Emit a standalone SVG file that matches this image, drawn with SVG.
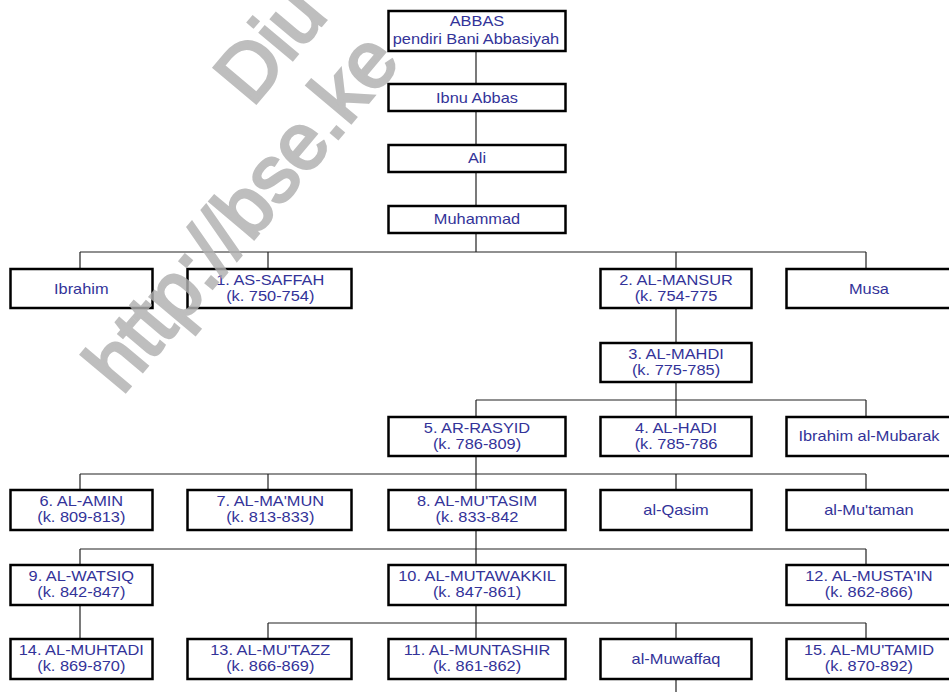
<svg xmlns="http://www.w3.org/2000/svg" width="949" height="692" viewBox="0 0 949 692">
<style>
.bx{fill:#fff;stroke:#000;stroke-width:2.5}
.ln{stroke:#222;stroke-width:1.2;fill:none}
.t{font-family:"Liberation Sans",Arial,sans-serif;font-size:14px;fill:#333399;text-anchor:middle}
.wm{font-family:"Liberation Sans",Arial,sans-serif;font-size:80px;fill:#b0b0b0;stroke:#b0b0b0;stroke-width:3;opacity:0.82}
</style>
<rect width="949" height="692" fill="#fff"/>
<g id="connectors" class="ln">
<path d="M476 51V84M476 111V145M476 172V206M476 233V252"/>
<path d="M80 252H866M80 252V269M268 252V269M676 252V269M866 252V269"/>
<path d="M676 308V343M676 382V400"/>
<path d="M476 400H866M476 400V417M676 400V417M866 400V417"/>
<path d="M476 456V474M80 474H866M80 474V490M268 474V490M476 474V490M676 474V490M866 474V490"/>
<path d="M476 530V549M80 549H866M80 549V565M476 549V565M866 549V565"/>
<path d="M80 605V639M476 605V623M268 623H866M268 623V639M476 623V639M676 623V639M866 623V639"/>
<path d="M676 679V692"/>
</g>
<g id="n-abbas"><rect class="bx" x="388.5" y="11" width="177" height="40"/></g>
<g id="n-ibnuabbas"><rect class="bx" x="388.5" y="84" width="177" height="27"/></g>
<g id="n-ali"><rect class="bx" x="388.5" y="145" width="177" height="27"/></g>
<g id="n-muhammad"><rect class="bx" x="388.5" y="206" width="177" height="27"/></g>
<g id="n-ibrahim"><rect class="bx" x="10.5" y="269" width="142" height="39"/></g>
<g id="n-saffah"><rect class="bx" x="187.5" y="269" width="164" height="39"/></g>
<g id="n-mansur"><rect class="bx" x="600.5" y="269" width="151" height="39"/></g>
<g id="n-musa"><rect class="bx" x="786.5" y="269" width="166" height="39"/></g>
<g id="n-mahdi"><rect class="bx" x="600.5" y="343" width="151" height="39"/></g>
<g id="n-rasyid"><rect class="bx" x="388.5" y="417" width="177" height="39"/></g>
<g id="n-hadi"><rect class="bx" x="600.5" y="417" width="151" height="39"/></g>
<g id="n-ibrahimmubarak"><rect class="bx" x="786.5" y="417" width="166" height="39"/></g>
<g id="n-amin"><rect class="bx" x="10.5" y="490" width="142" height="40"/></g>
<g id="n-mamun"><rect class="bx" x="187.5" y="490" width="164" height="40"/></g>
<g id="n-mutasim"><rect class="bx" x="388.5" y="490" width="177" height="40"/></g>
<g id="n-qasim"><rect class="bx" x="600.5" y="490" width="151" height="40"/></g>
<g id="n-mutaman"><rect class="bx" x="786.5" y="490" width="166" height="40"/></g>
<g id="n-watsiq"><rect class="bx" x="10.5" y="565" width="142" height="40"/></g>
<g id="n-mutawakkil"><rect class="bx" x="388.5" y="565" width="177" height="40"/></g>
<g id="n-mustain"><rect class="bx" x="786.5" y="565" width="166" height="40"/></g>
<g id="n-muhtadi"><rect class="bx" x="10.5" y="639" width="142" height="40"/></g>
<g id="n-mutazz"><rect class="bx" x="187.5" y="639" width="164" height="40"/></g>
<g id="n-muntashir"><rect class="bx" x="388.5" y="639" width="177" height="40"/></g>
<g id="n-muwaffaq"><rect class="bx" x="600.5" y="639" width="151" height="40"/></g>
<g id="n-mutamid"><rect class="bx" x="786.5" y="639" width="166" height="40"/></g>
<g id="labels" class="t" transform="scale(1.17 1)">
<text x="407.7" y="26">ABBAS</text>
<text x="406.8" y="44">pendiri Bani Abbasiyah</text>
<text x="407.7" y="103">Ibnu Abbas</text>
<text x="407.7" y="163">Ali</text>
<text x="407.7" y="224">Muhammad</text>
<text x="69.5" y="294">Ibrahim</text>
<text x="231" y="285">1. AS-SAFFAH</text>
<text x="231" y="301">(k. 750-754)</text>
<text x="577.8" y="285">2. AL-MANSUR</text>
<text x="577.8" y="301">(k. 754-775</text>
<text x="742.7" y="294">Musa</text>
<text x="577.8" y="359">3. AL-MAHDI</text>
<text x="577.8" y="375">(k. 775-785)</text>
<text x="407.7" y="433">5. AR-RASYID</text>
<text x="407.7" y="449">(k. 786-809)</text>
<text x="577.8" y="433">4. AL-HADI</text>
<text x="577.8" y="449">(k. 785-786</text>
<text x="742.7" y="441">Ibrahim al-Mubarak</text>
<text x="69.5" y="506">6. AL-AMIN</text>
<text x="69.5" y="522">(k. 809-813)</text>
<text x="231" y="506">7. AL-MA'MUN</text>
<text x="231" y="522">(k. 813-833)</text>
<text x="407.7" y="506">8. AL-MU'TASIM</text>
<text x="407.7" y="522">(k. 833-842</text>
<text x="577.8" y="515">al-Qasim</text>
<text x="742.7" y="515">al-Mu'taman</text>
<text x="69.5" y="581">9. AL-WATSIQ</text>
<text x="69.5" y="597">(k. 842-847)</text>
<text x="407.7" y="581">10. AL-MUTAWAKKIL</text>
<text x="407.7" y="597">(k. 847-861)</text>
<text x="742.7" y="581">12. AL-MUSTA'IN</text>
<text x="742.7" y="597">(k. 862-866)</text>
<text x="69.5" y="655">14. AL-MUHTADI</text>
<text x="69.5" y="671">(k. 869-870)</text>
<text x="231" y="655">13. AL-MU'TAZZ</text>
<text x="231" y="671">(k. 866-869)</text>
<text x="407.7" y="655">11. AL-MUNTASHIR</text>
<text x="407.7" y="671">(k. 861-862)</text>
<text x="577.8" y="664">al-Muwaffaq</text>
<text x="742.7" y="655">15. AL-MU'TAMID</text>
<text x="742.7" y="671">(k. 870-892)</text>
</g>
<g id="watermark">
<text class="wm" x="122" y="396" transform="rotate(-50 122 396)">http://bse.ke</text>
<text class="wm" x="252" y="108" transform="rotate(-50 252 108)">Diu</text>
</g>
</svg>
